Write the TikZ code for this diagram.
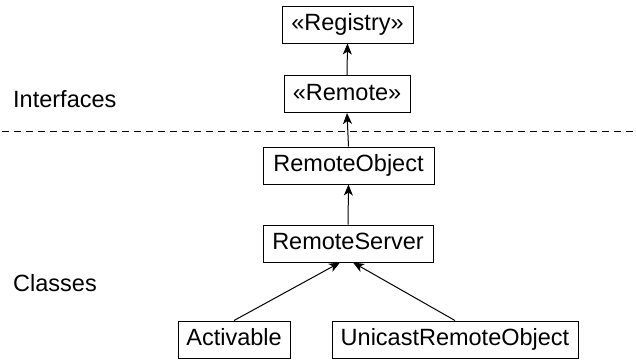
\documentclass[tikz,border=0pt]{standalone}
\usepackage{fontspec}
\setmainfont{Liberation Sans}
\usetikzlibrary{arrows.meta}
\begin{document}
\begin{tikzpicture}[x=1pt,y=-1pt,
  cls/.style={draw, line width=1pt, fill=white, inner xsep=0pt, inner ysep=0pt,
    minimum height=37pt, text height=17pt, text depth=5pt,
    font=\fontsize{23.5}{27}\selectfont},
  lbl/.style={anchor=west, inner sep=0pt, font=\fontsize{23.5}{27}\selectfont},
  inh/.style={line width=1pt, -{Stealth[length=11pt,width=9pt,inset=3pt]}}]
\useasboundingbox (0,0) rectangle (636,359);
\draw[line width=0.9pt, dash pattern=on 7pt off 5pt] (2,131) -- (636,131);
\node[cls, minimum width=131pt] (reg) at (347.5,24.5) {«Registry»};
\node[cls, minimum width=126pt] (rem) at (347,94) {«Remote»};
\node[cls, minimum width=171pt] (robj) at (348.5,165.5) {RemoteObject};
\node[cls, minimum width=170pt] (rsrv) at (348,243.5) {RemoteServer};
\node[cls, minimum width=112pt] (act) at (234,339.5) {Activable};
\node[cls, minimum width=246pt] (uro) at (455,339.5) {UnicastRemoteObject};
\node[lbl] (li) at (13,99) {Interfaces};
\node[lbl] (lc) at (13,283) {Classes};
\draw[inh] (rem.north) -- (reg.south);
\draw[inh] (robj.north) -- (rem.south);
\draw[inh] (rsrv.north) -- (robj.south);
\draw[inh] (act.north) -- ([xshift=-8pt]rsrv.south);
\draw[inh] (uro.north) -- ([xshift=5pt]rsrv.south);
\end{tikzpicture}
\end{document}
